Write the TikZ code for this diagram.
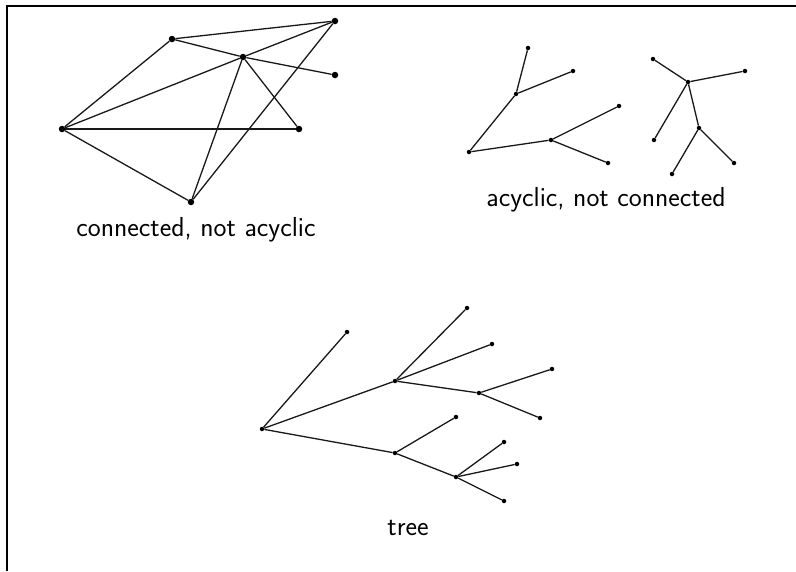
\documentclass[tikz,border=0pt]{standalone}
\begin{document}
\begin{tikzpicture}[x=1pt,y=-1pt,
  bigdot/.style={circle,fill=black,inner sep=0pt,minimum size=6.5pt},
  smalldot/.style={circle,fill=black,inner sep=0pt,minimum size=4.5pt},
  edge/.style={draw=black!90,line width=1.3pt},
  lbl/.style={font=\fontsize{27.5}{32}\selectfont\sffamily,inner sep=0pt}]
\useasboundingbox (0,0) rectangle (796,571);
\fill[white] (0,0) rectangle (796,571);
\coordinate (f1) at (7,571);
\coordinate (f2) at (7,6);
\coordinate (f3) at (796,6);
\draw[line width=2.2pt] (f1) -- (f2) -- (f3);
% graph 1
\node[bigdot] (A) at (172,39) {};
\node[bigdot] (B) at (335,21) {};
\node[bigdot] (C) at (243,57) {};
\node[bigdot] (D) at (335,75) {};
\node[bigdot] (E) at (62,129) {};
\node[bigdot] (F) at (299,129) {};
\node[bigdot] (G) at (191,202) {};
\foreach \a/\b in {A/B,A/C,C/D,E/A,E/C,C/B,E/F,C/F,E/G,G/C,G/B}
  \draw[edge] (\a) -- (\b);
\node[lbl] (l1) at (196,230) {connected, not acyclic};
% graph 2
\node[smalldot] (P1) at (469,152) {};
\node[smalldot] (P2) at (516,94) {};
\node[smalldot] (P3) at (528,48) {};
\node[smalldot] (P4) at (573,71) {};
\node[smalldot] (P5) at (551,140) {};
\node[smalldot] (P6) at (619,106) {};
\node[smalldot] (P7) at (608,163) {};
\foreach \a/\b in {P1/P2,P2/P3,P2/P4,P1/P5,P5/P6,P5/P7}
  \draw[edge] (\a) -- (\b);
\node[smalldot] (Q1) at (653,59) {};
\node[smalldot] (Q2) at (688,82) {};
\node[smalldot] (Q3) at (745,71) {};
\node[smalldot] (Q4) at (654,140) {};
\node[smalldot] (Q5) at (699,128) {};
\node[smalldot] (Q6) at (672,174) {};
\node[smalldot] (Q7) at (734,163) {};
\foreach \a/\b in {Q1/Q2,Q2/Q3,Q2/Q4,Q2/Q5,Q5/Q6,Q5/Q7}
  \draw[edge] (\a) -- (\b);
\node[lbl] (l2) at (606,200) {acyclic, not connected};
% tree
\node[smalldot] (R) at (262,429) {};
\node[smalldot] (Ta) at (347,332) {};
\node[smalldot] (Tb) at (395,381) {};
\node[smalldot] (Tc) at (467,308) {};
\node[smalldot] (Td) at (492,344) {};
\node[smalldot] (Te) at (479,393) {};
\node[smalldot] (Tf) at (552,369) {};
\node[smalldot] (Tg) at (540,418) {};
\node[smalldot] (Th) at (395,453) {};
\node[smalldot] (Ti) at (456,417) {};
\node[smalldot] (Tj) at (456,477) {};
\node[smalldot] (Tk) at (504,442) {};
\node[smalldot] (Tl) at (517,464) {};
\node[smalldot] (Tm) at (504,501) {};
\foreach \a/\b in {R/Ta,R/Tb,Tb/Tc,Tb/Td,Tb/Te,Te/Tf,Te/Tg,R/Th,Th/Ti,Th/Tj,Tj/Tk,Tj/Tl,Tj/Tm}
  \draw[edge] (\a) -- (\b);
\node[lbl] (l3) at (408,528) {tree};
\end{tikzpicture}
\end{document}
